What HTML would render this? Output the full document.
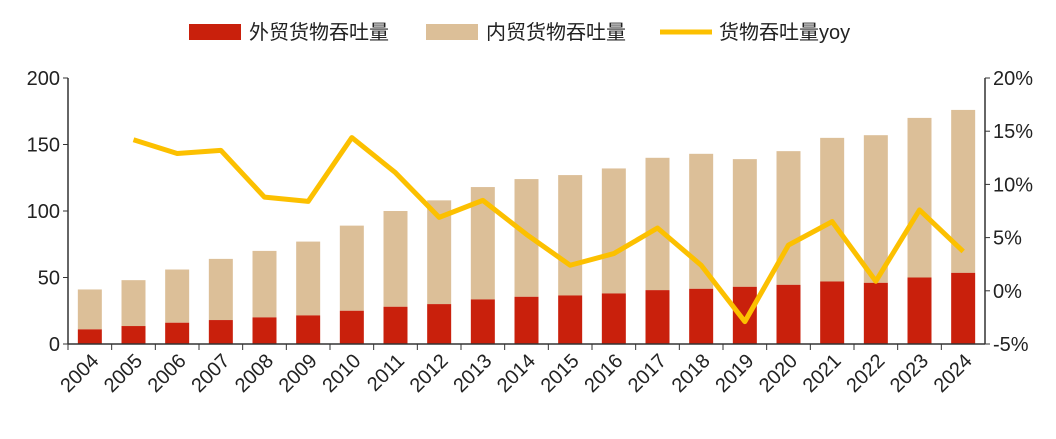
<!DOCTYPE html>
<html><head><meta charset="utf-8"><style>
body{margin:0;background:#fff;}
svg text{font-family:"Liberation Sans","Noto Sans CJK SC",sans-serif;}
</style></head><body>
<svg id="c" width="1056" height="434" xmlns="http://www.w3.org/2000/svg">
<g>
<rect x="189" y="24" width="52" height="16" fill="#c9200c"/>
<text x="249" y="39" font-size="20" fill="#222">外贸货物吞吐量</text>
<rect x="426" y="24" width="52" height="16" fill="#dcbf98"/>
<text x="486" y="39" font-size="20" fill="#222">内贸货物吞吐量</text>
<line x1="660" y1="32" x2="712" y2="32" stroke="#fcc000" stroke-width="5"/>
<text x="719" y="39" font-size="20" fill="#222">货物吞吐量yoy</text>
</g>
<g id="plot"></g>
</svg>
<script>
const years=['2004','2005','2006','2007','2008','2009','2010','2011','2012','2013','2014','2015','2016','2017','2018','2019','2020','2021','2022','2023','2024'];
const totalVals=[41,48,56,64,70,77,89,100,108,118,124,127,132,140,143,139,145,155,157,170,176];
const foreignVals=[11,13.5,16,18,20,21.5,25,28,30,33.5,35.5,36.5,38,40.5,41.5,43,44.5,47,46,50,53.5];
const yoyVals=[null,14.2,12.9,13.2,8.8,8.4,14.4,11.1,6.9,8.5,5.3,2.4,3.5,5.9,2.4,-2.9,4.3,6.5,0.9,7.6,3.7];
const leftTicks=[0,50,100,150,200];
const rightTicks=[-5,0,5,10,15,20];
const NS='http://www.w3.org/2000/svg';
const g=document.getElementById('plot');
const X0=68,X1=985,Y0=344,Y1=78;
const step=(X1-X0)/years.length;
const xc=i=>X0+step*(i+0.5);
const yL=v=>Y0-(v/200)*(Y0-Y1);
const yR=v=>Y0-((v+5)/25)*(Y0-Y1);
function mk(t,a){const e=document.createElementNS(NS,t);for(const k in a)e.setAttribute(k,a[k]);g.appendChild(e);return e;}
const bw=24;
years.forEach((y,i)=>{
 const d=mk('rect',{x:xc(i)-bw/2,y:yL(totalVals[i]),width:bw,height:yL(foreignVals[i])-yL(totalVals[i]),fill:'#dcbf98'});
 
 
 const f=mk('rect',{x:xc(i)-bw/2,y:yL(foreignVals[i]),width:bw,height:Y0-yL(foreignVals[i]),fill:'#c9200c'});
 
 
 const t=mk('text',{x:0,y:0,'font-size':20,fill:'#222','text-anchor':'end',transform:`translate(${xc(i)+10},${Y0+18}) rotate(-45)`});
 t.textContent=y;
 
 
 const tk=mk('line',{x1:X0+step*i,x2:X0+step*i,y1:Y0,y2:Y0+6,stroke:'#333','stroke-width':1});
 
 
});
const ax=mk('line',{x1:X0,x2:X1,y1:Y0,y2:Y0,stroke:'#333','stroke-width':1.5});


const la=mk('line',{x1:X0,x2:X0,y1:Y1,y2:Y0,stroke:'#333','stroke-width':1.5});


const ra=mk('line',{x1:X1,x2:X1,y1:Y1,y2:Y0,stroke:'#333','stroke-width':1.5});


leftTicks.forEach(v=>{
 const t=mk('text',{x:X0-8,y:yL(v)+7,'font-size':20,fill:'#222','text-anchor':'end'});
 t.textContent=v;
 
 
 const l=mk('line',{x1:X0-5,x2:X0,y1:yL(v),y2:yL(v),stroke:'#333'});
 
 
});
rightTicks.forEach(v=>{
 const t=mk('text',{x:X1+8,y:yR(v)+7,'font-size':20,fill:'#222'});
 t.textContent=v+'%';
 
 
 const l=mk('line',{x1:X1,x2:X1+5,y1:yR(v),y2:yR(v),stroke:'#333'});
 
 
});
const pts=[];
yoyVals.forEach((v,i)=>{if(v!==null)pts.push(xc(i)+','+yR(v));});
const pl=mk('polyline',{points:pts.join(' '),fill:'none',stroke:'#fcc000','stroke-width':5,'stroke-linejoin':'round'});


</script>
</body></html>
